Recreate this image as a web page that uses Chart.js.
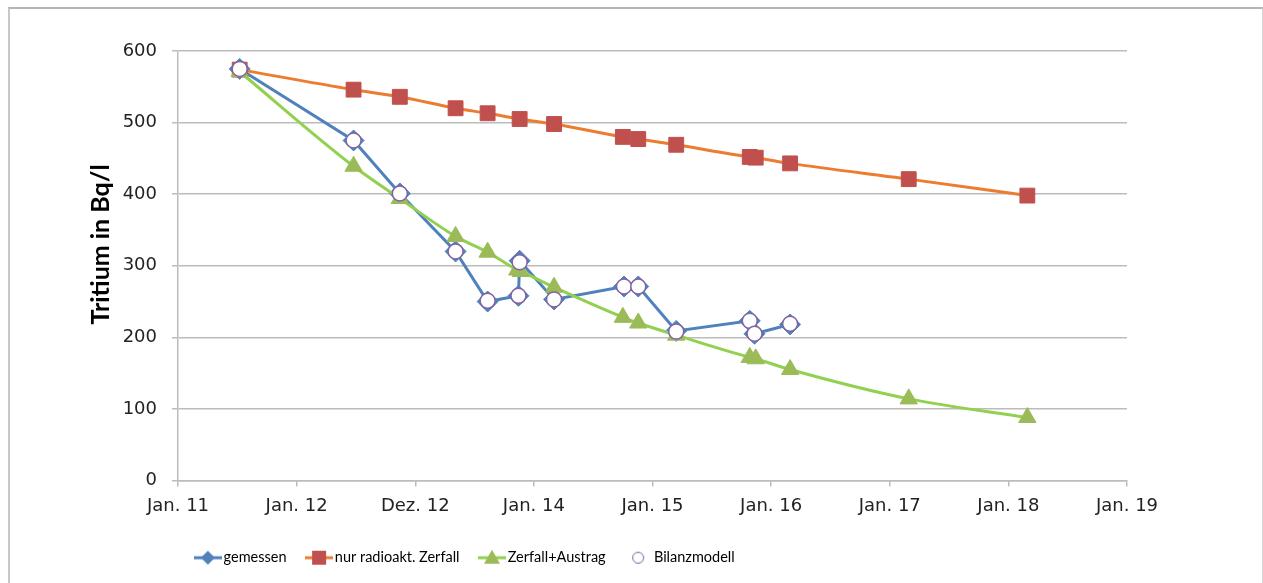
<!DOCTYPE html>
<html lang="de">
<head>
<meta charset="UTF-8">
<title>Tritium in Bq/l</title>
<script src="https://cdn.jsdelivr.net/npm/chart.js"></script>
<style>
  html, body { margin: 0; padding: 0; background: #fff; overflow: hidden; }
  #rahmen {
    position: absolute; left: 8px; top: 7px; width: 1252px; height: 574px;
    border-top: 2px solid #b4b4b4; border-left: 2px solid #c8c8c8; border-right: 1px solid #d4d4d4;
  }
  canvas { position: absolute; left: 0; top: 0; }
</style>
</head>
<body>
<div id="rahmen"></div>
<canvas id="myChart" width="1263" height="583"></canvas>
<script>
// x values are in "tick units": 0 = Jan. 11, 1 = Jan. 12, ... 8 = Jan. 19
const tickLabels = ['Jan. 11', 'Jan. 12', 'Dez. 12', 'Jan. 14', 'Jan. 15', 'Jan. 16', 'Jan. 17', 'Jan. 18', 'Jan. 19'];

const zeitGemessen = [0.52, 1.48, 1.87, 2.34, 2.61, 2.87, 2.88, 3.17, 3.76, 3.88, 4.20, 4.82, 4.86, 5.16];
const gemessen     = [575, 475, 401, 320, 250, 258, 307, 253, 271, 271, 209, 223, 205, 218];
const bilanzmodell = [575, 475, 401, 320, 251, 258, 305, 253, 271, 271, 208, 223, 205, 219];

const zeitZerfall = [0.52, 1.48, 1.87, 2.34, 2.61, 2.88, 3.17, 3.75, 3.88, 4.20, 4.82, 4.87, 5.16, 6.16, 7.16];
const nurZerfall  = [574, 546, 536, 520, 513, 505, 498, 480, 477, 469, 452, 451, 443, 421, 398];

const zeitAustrag    = [0.52, 1.48, 1.87, 2.34, 2.61, 2.86, 2.89, 3.17, 3.75, 3.88, 4.20, 4.82, 4.87, 5.16, 6.16, 7.16];
const zerfallAustrag = [571, 439, 394, 341, 319, 294, 292, 270, 228, 220, 203, 172, 170, 155, 114, 88];

function punkte(xs, ys) {
    return xs.map((x, i) => ({ x: x, y: ys[i] }));
}

// small legend pictures: line with marker, like in excel
function legendIcon(lineColor, marker) {
    const c = document.createElement('canvas');
    c.width = 28; c.height = 18;
    const g = c.getContext('2d');
    if (lineColor) {
        g.strokeStyle = lineColor; g.lineWidth = 3;
        g.beginPath(); g.moveTo(0, 9); g.lineTo(28, 9); g.stroke();
    }
    marker(g, 14, 9);
    return c;
}

const icons = [
    legendIcon('#4f81bd', (g, x, y) => {
        g.fillStyle = '#4f81bd';
        g.beginPath(); g.moveTo(x, y - 7); g.lineTo(x + 7, y); g.lineTo(x, y + 7); g.lineTo(x - 7, y); g.closePath(); g.fill();
    }),
    legendIcon('#ec7c30', (g, x, y) => {
        g.fillStyle = '#c0504d'; g.fillRect(x - 7, y - 7, 14, 14);
    }),
    legendIcon('#92d050', (g, x, y) => {
        g.fillStyle = '#9bbb59';
        g.beginPath(); g.moveTo(x, y - 8); g.lineTo(x + 8, y + 6); g.lineTo(x - 8, y + 6); g.closePath(); g.fill();
    }),
    legendIcon(null, (g, x, y) => {
        g.fillStyle = '#fff'; g.strokeStyle = '#8064a2'; g.lineWidth = 1;
        g.beginPath(); g.arc(x, y, 5.5, 0, Math.PI * 2); g.fill(); g.stroke();
    })
];

// the legend in the original sits left of the middle
const legendVersatz = {
    id: 'legendVersatz',
    beforeDraw(chart) {
        const lg = chart.legend;
        lg.right = lg.left + 2 * (467 - lg.left);
    }
};

const ctx = document.getElementById('myChart').getContext('2d');
new Chart(ctx, {
    type: 'line',
    data: {
        datasets: [{
            label: 'gemessen',
            data: punkte(zeitGemessen, gemessen),
            borderColor: '#4f81bd',
            backgroundColor: '#4f81bd',
            borderWidth: 3,
            pointStyle: 'rectRot',
            pointRadius: 10.5,
            pointBorderWidth: 1,
            tension: 0,
            order: 4
        }, {
            label: 'nur radioakt. Zerfall',
            data: punkte(zeitZerfall, nurZerfall),
            borderColor: '#ec7c30',
            backgroundColor: '#c0504d',
            pointBorderColor: '#c0504d',
            borderWidth: 3,
            pointStyle: 'rect',
            pointRadius: 10.5,
            pointBorderWidth: 1,
            cubicInterpolationMode: 'monotone',
            order: 3
        }, {
            label: 'Zerfall+Austrag',
            data: punkte(zeitAustrag, zerfallAustrag),
            borderColor: '#92d050',
            backgroundColor: '#9bbb59',
            pointBorderColor: '#9bbb59',
            borderWidth: 3,
            pointStyle: 'triangle',
            pointRadius: 10,
            pointBorderWidth: 1,
            cubicInterpolationMode: 'monotone',
            order: 2
        }, {
            label: 'Bilanzmodell',
            data: punkte(zeitGemessen, bilanzmodell),
            showLine: false,
            borderColor: '#8064a2',
            backgroundColor: '#ffffff',
            pointStyle: 'circle',
            pointRadius: 7.5,
            pointBorderWidth: 1.5,
            order: 1
        }]
    },
    options: {
        responsive: false,
        animation: false,
        layout: {
            padding: { left: 8, right: 136, top: 51, bottom: 8 }
        },
        plugins: {
            tooltip: { enabled: false },
            legend: {
                position: 'bottom',
                labels: {
                    usePointStyle: true,
                    pointStyleWidth: 17,
                    padding: 24,
                    color: '#000',
                    font: { family: 'Lato', size: 14.5 },
                    generateLabels: chart => {
                        const items = Chart.defaults.plugins.legend.labels.generateLabels(chart);
                        items.forEach(it => { it.pointStyle = icons[it.datasetIndex]; });
                        return items;
                    },
                    sort: (a, b) => a.datasetIndex - b.datasetIndex
                }
            }
        },
        scales: {
            x: {
                type: 'linear',
                min: 0,
                max: 8,
                afterFit: s => { s.height = 46; },
                grid: {
                    drawOnChartArea: false,
                    tickLength: 6,
                    color: '#bcbcbc',
                    lineWidth: 1.5
                },
                border: { color: '#bcbcbc', width: 1.5 },
                ticks: {
                    stepSize: 1,
                    padding: 9,
                    color: '#222',
                    font: { family: 'DejaVu Sans', size: 18 },
                    callback: v => tickLabels[v]
                }
            },
            y: {
                min: 0,
                max: 600,
                afterFit: s => { s.width = 170; },
                grid: {
                    tickLength: 6,
                    color: '#bcbcbc',
                    lineWidth: 1.5
                },
                border: { color: '#bcbcbc', width: 1.5 },
                ticks: {
                    stepSize: 100,
                    padding: 15,
                    color: '#222',
                    font: { family: 'DejaVu Sans', size: 18 }
                },
                title: {
                    display: true,
                    // leading spaces move the title a bit upwards, as in the original
                    text: '       Tritium in Bq/l',
                    color: '#000',
                    font: { family: 'Lato', size: 25, weight: 'bold' },
                    padding: { top: 78, bottom: 0 }
                }
            }
        }
    },
    plugins: [legendVersatz]
});
</script>
</body>
</html>
